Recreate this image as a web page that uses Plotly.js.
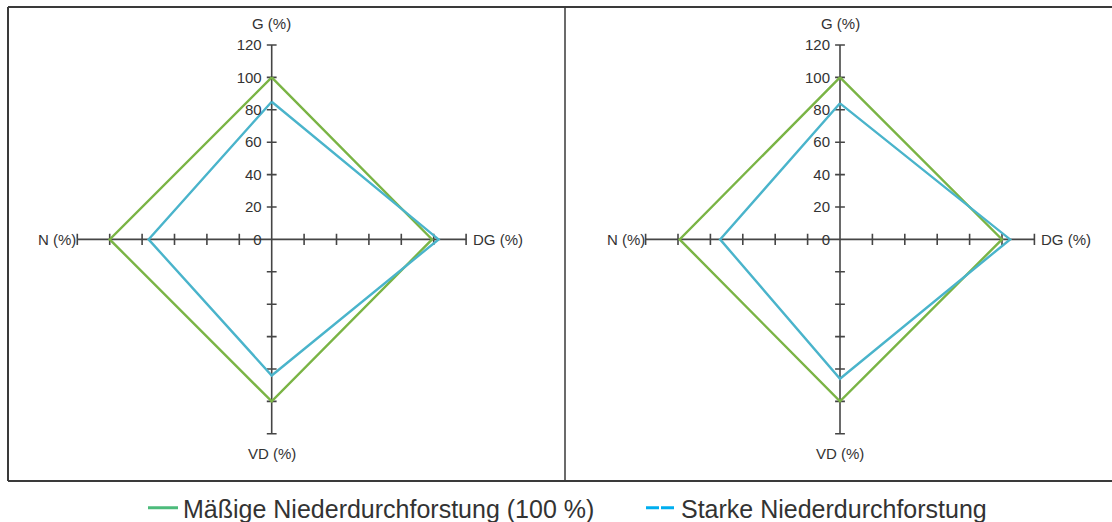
<!DOCTYPE html>
<html>
<head>
<meta charset="utf-8">
<script src="https://cdn.plot.ly/plotly-3.0.1.min.js"></script>
<style>html,body{margin:0;padding:0;background:#fff;overflow:hidden;}#chart{width:1112px;height:522px;}</style>
</head>
<body>
<div id="chart"></div>
<script>
// ---- data ----
const categories = ['G (%)', 'DG (%)', 'VD (%)', 'N (%)'];   // top, right, bottom, left
const seriesNames = ['Mäßige Niederdurchforstung (100 %)', 'Starke Niederdurchforstung'];
const leftModerate  = [100, 99, 100, 100];
const leftStrong    = [85, 103, 84, 76];
const rightModerate = [100, 100, 100, 99];
const rightStrong   = [84, 105, 86, 74];
const tickValues = [0, 20, 40, 60, 80, 100, 120];
const tickLabels = ['0', '20', '40', '60', '80', '100', '120'];
const axisMax = 120;

// ---- styles ----
const W = 1112, H = 522;
const FONT = 'Liberation Sans, Arial, sans-serif';
const lineColors = ['#7AB445', '#4AB4CB'];
const legendColors = ['#4CBB7B', '#00AEEF'];
const axisColor = '#454545';

function polygon(vals) {
  // G up, DG right, VD down, N left
  return {
    x: [0, vals[1], 0, -vals[3], 0],
    y: [vals[0], 0, -vals[2], 0, vals[0]]
  };
}

const panels = [
  {xa: 'x', ya: 'y', data: [leftModerate, leftStrong], cx: 271.7},
  {xa: 'x2', ya: 'y2', data: [rightModerate, rightStrong], cx: 840.0}
];
const cy = 239.4, scale = 1.62, xr = 160, yr = 140;

const traces = [];
const annotations = [];
const nonZero = tickValues.filter(v => v !== 0);
const hTicks = nonZero.map(v => -v).concat(nonZero);

panels.forEach(p => {
  // axes cross
  traces.push({x: [-axisMax, axisMax], y: [0, 0], xaxis: p.xa, yaxis: p.ya, mode: 'lines',
    line: {color: axisColor, width: 1.6}, showlegend: false, hoverinfo: 'skip'});
  traces.push({x: [0, 0], y: [-axisMax, axisMax], xaxis: p.xa, yaxis: p.ya, mode: 'lines',
    line: {color: axisColor, width: 1.6}, showlegend: false, hoverinfo: 'skip'});
  // tick marks
  traces.push({x: hTicks, y: hTicks.map(() => 0), xaxis: p.xa, yaxis: p.ya, mode: 'markers',
    marker: {symbol: 'line-ns', size: 8, line: {width: 1.6, color: axisColor}},
    showlegend: false, hoverinfo: 'skip'});
  traces.push({x: hTicks.map(() => 0), y: hTicks, xaxis: p.xa, yaxis: p.ya, mode: 'markers',
    marker: {symbol: 'line-ew', size: 7, line: {width: 1.6, color: axisColor}},
    showlegend: false, hoverinfo: 'skip'});
  // series
  p.data.forEach((vals, i) => {
    const pg = polygon(vals);
    traces.push({x: pg.x, y: pg.y, xaxis: p.xa, yaxis: p.ya, mode: 'lines',
      line: {color: lineColors[i], width: 2.4}, name: seriesNames[i],
      showlegend: false, hoverinfo: 'skip'});
  });
  // axis titles
  const af = {family: FONT, size: 15, color: '#333'};
  annotations.push({xref: p.xa, yref: p.ya, x: 0, y: axisMax, text: categories[0], showarrow: false,
    xanchor: 'center', yanchor: 'bottom', yshift: 11, font: af});
  annotations.push({xref: p.xa, yref: p.ya, x: axisMax, y: 0, text: categories[1], showarrow: false,
    xanchor: 'left', yanchor: 'middle', xshift: 5, font: af});
  annotations.push({xref: p.xa, yref: p.ya, x: 0, y: -axisMax, text: categories[2], showarrow: false,
    xanchor: 'center', yanchor: 'top', yshift: -9, font: af});
  annotations.push({xref: p.xa, yref: p.ya, x: -axisMax, y: 0, text: categories[3], showarrow: false,
    xanchor: 'right', yanchor: 'middle', xshift: 1, font: af});
});

// legend entries
seriesNames.forEach((n, i) => {
  traces.push({x: [null], y: [null], xaxis: 'x', yaxis: 'y', mode: 'lines', name: n,
    line: {color: legendColors[i], width: 3, dash: i === 1 ? '13px,2px' : 'solid'},
    showlegend: true, hoverinfo: 'skip'});
});

function xaxisDef(cx) {
  return {domain: [(cx - xr * scale) / W, (cx + xr * scale) / W], range: [-xr, xr],
    visible: false, fixedrange: true};
}
function yaxisDef(cx) {
  return {domain: [(H - (cy + yr * scale)) / H, (H - (cy - yr * scale)) / H], range: [-yr, yr],
    anchor: 'free', position: cx / W, side: 'left', showline: false, showgrid: false, zeroline: false,
    tickvals: tickValues, ticktext: tickLabels, ticks: '', ticklabelstandoff: 10,
    tickfont: {family: FONT, size: 15, color: '#333'}, fixedrange: true};
}

const frameColor = '#3a3a3a';
const shapes = [
  {type: 'line', xref: 'paper', yref: 'paper', x0: 8 / W, x1: 1 + 2 / W, y0: 1 - 7 / H, y1: 1 - 7 / H, line: {color: frameColor, width: 2}},
  {type: 'line', xref: 'paper', yref: 'paper', x0: 8 / W, x1: 1 + 2 / W, y0: 1 - 481 / H, y1: 1 - 481 / H, line: {color: frameColor, width: 2}},
  {type: 'line', xref: 'paper', yref: 'paper', x0: 8 / W, x1: 8 / W, y0: 1 - 7 / H, y1: 1 - 481 / H, line: {color: frameColor, width: 2}},
  {type: 'line', xref: 'paper', yref: 'paper', x0: 565 / W, x1: 565 / W, y0: 1 - 7 / H, y1: 1 - 481 / H, line: {color: frameColor, width: 1.5}}
];

const layout = {
  width: W, height: H,
  margin: {l: 0, r: 0, t: 0, b: 0, pad: 0, autoexpand: false},
  paper_bgcolor: '#fff', plot_bgcolor: 'rgba(0,0,0,0)',
  showlegend: true,
  legend: {orientation: 'h', x: 143 / W, xanchor: 'left', y: 1 - 508 / H, yanchor: 'middle',
    entrywidth: 453, entrywidthmode: 'pixels', bgcolor: 'rgba(0,0,0,0)',
    font: {family: FONT, size: 25, color: '#333'}},
  xaxis: xaxisDef(panels[0].cx), yaxis: yaxisDef(panels[0].cx),
  xaxis2: xaxisDef(panels[1].cx), yaxis2: yaxisDef(panels[1].cx),
  shapes: shapes, annotations: annotations,
  hovermode: false, dragmode: false
};

Plotly.newPlot('chart', traces, layout, {staticPlot: true, displayModeBar: false});
</script>
</body>
</html>
